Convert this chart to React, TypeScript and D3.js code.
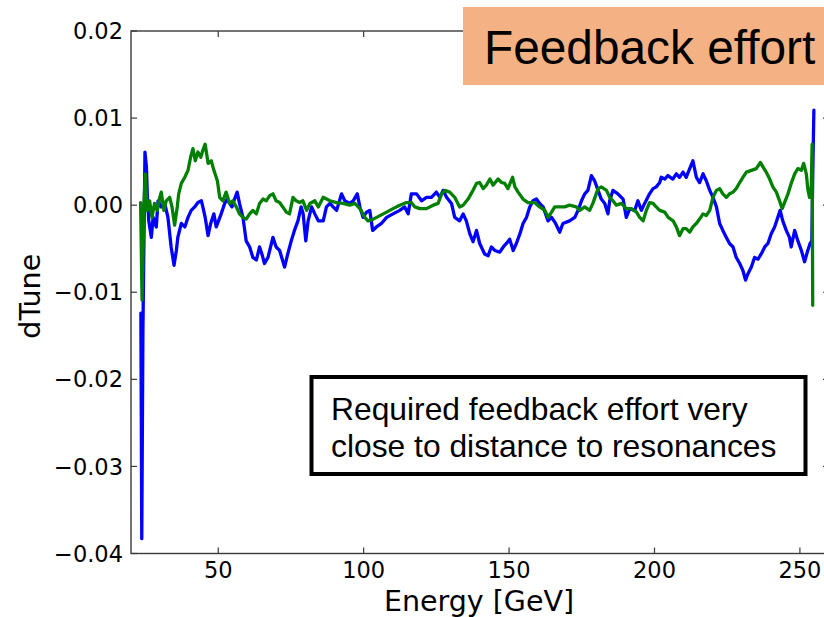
import React from "react";
import * as d3 from "d3";

// ---- data ----
const yTicks = [0.02, 0.01, 0.0, -0.01, -0.02, -0.03, -0.04];
const yTickLabels = ["0.02", "0.01", "0.00", "\u22120.01", "\u22120.02", "\u22120.03", "\u22120.04"];
const xTicks = [50, 100, 150, 200, 250];
const xTickLabels = ["50", "100", "150", "200", "250"];
const xLabel = "Energy [GeV]";
const yLabel = "dTune";
const titleText = "Feedback effort";
const noteLines = ["Required feedback effort very", "close to distance to resonances"];

const blueSeries: [number, number][] = [
  [23.4,-0.0124],[23.7,-0.0383],[24.1,-0.0144],[24.8,0.0061],[25.3,0.0044],[25.6,0.0013],[26.1,-0.0018],[27.0,-0.0037],[27.6,-0.0014],[28.7,-0.0025],[29.3,0.0005],[30.4,-0.0002],[31.6,0.0002],[32.7,-0.0014],[33.8,-0.0048],[34.8,-0.0069],[35.6,-0.0052],[36.1,-0.0037],[37.3,-0.0021],[38.5,-0.0025],[39.6,-0.0014],[40.7,-0.0006],[41.9,-0.0002],[43.0,0.0003],[44.2,0.0005],[44.7,-0.0002],[45.5,-0.0014],[46.5,-0.0035],[47.4,-0.0021],[48.5,-0.0010],[49.3,-0.0025],[50.1,-0.0018],[51.0,-0.0010],[52.2,0.0002],[53.1,0.0007],[53.9,0.0002],[54.7,-0.0002],[55.6,0.0007],[56.5,0.0015],[57.3,0.0002],[58.5,-0.0014],[59.6,-0.0041],[60.8,-0.0048],[61.9,-0.0060],[63.1,-0.0063],[64.2,-0.0048],[65.0,-0.0056],[65.9,-0.0067],[67.1,-0.0060],[68.8,-0.0037],[69.9,-0.0048],[71.1,-0.0052],[72.8,-0.0071],[73.9,-0.0056],[75.1,-0.0041],[76.2,-0.0029],[77.4,-0.0018],[78.5,-0.0002],[79.2,-0.0010],[80.1,-0.0041],[80.9,-0.0018],[82.1,-0.0002],[83.2,-0.0010],[84.4,-0.0018],[86.1,-0.0018],[87.2,-0.0002],[88.4,0.0002],[89.5,-0.0002],[90.7,-0.0006],[92.4,0.0013],[93.5,0.0005],[95.2,0.0002],[96.4,0.0005],[97.8,0.0013],[98.7,-0.0002],[99.8,-0.0014],[101.0,-0.0008],[102.1,-0.0006],[103.1,-0.0029],[104.4,-0.0025],[106.1,-0.0021],[107.9,-0.0014],[110.1,-0.0010],[112.4,-0.0006],[114.1,-0.0002],[115.3,-0.0010],[116.4,0.0013],[118.2,0.0013],[119.9,0.0005],[121.6,0.0009],[123.3,0.0009],[125.0,0.0015],[126.2,0.0009],[127.3,0.0017],[128.5,0.0009],[130.2,0.0002],[131.3,-0.0014],[133.0,-0.0018],[134.2,-0.0010],[135.3,-0.0018],[136.5,-0.0033],[137.6,-0.0042],[138.8,-0.0029],[139.9,-0.0044],[141.6,-0.0056],[142.8,-0.0058],[143.9,-0.0048],[145.1,-0.0052],[146.8,-0.0054],[148.0,-0.0048],[149.1,-0.0044],[150.2,-0.0039],[151.4,-0.0052],[152.5,-0.0044],[153.7,-0.0033],[154.8,-0.0021],[156.0,-0.0014],[157.1,-0.0002],[158.2,0.0005],[159.4,0.0007],[160.5,0.0002],[161.7,-0.0002],[163.4,-0.0018],[164.6,-0.0014],[166.0,-0.0021],[167.4,-0.0031],[168.5,-0.0021],[170.8,-0.0018],[172.6,-0.0014],[173.7,-0.0006],[174.9,0.0005],[176.0,0.0013],[177.1,0.0017],[178.3,0.0034],[179.4,0.0028],[180.6,0.0017],[181.7,0.0007],[182.9,0.0002],[184.0,-0.0010],[184.6,0.0005],[185.7,0.0017],[187.4,0.0013],[189.2,0.0007],[190.3,-0.0014],[191.5,-0.0004],[193.2,-0.0006],[194.3,0.0005],[195.5,-0.0006],[196.6,0.0002],[198.3,0.0013],[199.5,0.0019],[200.6,0.0021],[201.8,0.0026],[202.3,0.0032],[203.5,0.0030],[204.6,0.0034],[206.3,0.0030],[207.5,0.0036],[208.6,0.0032],[209.8,0.0038],[210.9,0.0032],[212.1,0.0042],[213.2,0.0051],[214.4,0.0032],[215.5,0.0026],[216.7,0.0036],[217.8,0.0028],[219.0,0.0017],[220.1,0.0009],[221.3,-0.0002],[222.4,-0.0021],[223.5,-0.0029],[224.7,-0.0037],[225.8,-0.0044],[227.0,-0.0048],[228.1,-0.0060],[229.3,-0.0067],[230.4,-0.0075],[231.3,-0.0086],[232.1,-0.0079],[233.3,-0.0071],[234.4,-0.0060],[235.6,-0.0062],[236.7,-0.0056],[237.9,-0.0048],[239.0,-0.0044],[240.1,-0.0033],[241.3,-0.0025],[242.4,-0.0014],[243.2,-0.0006],[244.1,-0.0018],[245.3,-0.0029],[246.4,-0.0037],[247.0,-0.0048],[248.2,-0.0029],[249.3,-0.0041],[250.5,-0.0052],[251.6,-0.0065],[252.7,-0.0052],[253.5,-0.0044],[254.1,-0.0041],[254.4,0.0032],[254.8,0.0109]
];

const greenSeries: [number, number][] = [
  [23.3,0.0003],[23.8,-0.0109],[24.5,0.0005],[24.9,0.0036],[25.6,-0.0006],[26.4,0.0005],[27.2,-0.0014],[28.1,0.0002],[29.0,-0.0006],[29.9,0.0009],[30.4,0.0015],[31.3,-0.0006],[32.1,0.0005],[33.3,0.0009],[34.1,-0.0002],[35.0,-0.0023],[35.9,-0.0002],[36.4,0.0013],[37.3,0.0025],[38.5,0.0032],[39.6,0.0040],[40.5,0.0055],[41.3,0.0065],[42.1,0.0051],[43.0,0.0061],[44.0,0.0055],[44.7,0.0063],[45.5,0.0070],[46.5,0.0048],[47.6,0.0051],[48.5,0.0040],[49.7,0.0028],[50.5,0.0009],[51.6,0.0005],[52.7,0.0015],[53.9,0.0002],[55.0,0.0005],[56.2,-0.0002],[57.3,-0.0010],[58.5,-0.0014],[59.6,-0.0016],[60.8,-0.0010],[61.9,-0.0006],[63.1,-0.0010],[64.2,0.0002],[65.4,0.0007],[66.5,0.0005],[67.7,0.0011],[68.8,0.0013],[69.9,0.0005],[71.1,0.0003],[72.2,-0.0002],[73.4,-0.0008],[74.5,-0.0010],[75.7,0.0009],[76.8,0.0005],[78.0,0.0003],[79.1,0.0005],[80.4,-0.0006],[81.5,0.0002],[83.2,0.0005],[84.4,-0.0002],[86.1,0.0009],[88.4,0.0005],[90.7,0.0003],[92.9,0.0002],[95.2,0.0000],[97.0,0.0002],[98.7,-0.0004],[100.4,-0.0014],[101.5,-0.0018],[103.3,-0.0016],[105.6,-0.0012],[107.9,-0.0008],[110.1,-0.0004],[112.4,0.0000],[114.7,0.0003],[116.4,0.0003],[117.6,-0.0002],[119.3,-0.0004],[121.6,-0.0004],[123.9,0.0000],[125.6,0.0002],[126.8,0.0013],[127.9,0.0017],[129.6,0.0015],[131.3,0.0009],[133.0,-0.0002],[134.2,0.0000],[135.9,0.0007],[137.6,0.0017],[138.8,0.0025],[139.9,0.0026],[141.1,0.0019],[142.2,0.0023],[143.4,0.0030],[144.5,0.0023],[146.2,0.0030],[147.4,0.0026],[148.5,0.0025],[149.6,0.0019],[151.2,0.0032],[152.0,0.0021],[153.1,0.0015],[154.8,0.0007],[156.5,0.0003],[158.8,0.0003],[160.5,-0.0002],[162.3,-0.0006],[163.4,-0.0014],[164.6,-0.0008],[165.7,-0.0002],[167.4,-0.0002],[169.1,-0.0002],[170.8,0.0000],[173.1,-0.0002],[174.3,-0.0006],[176.0,-0.0002],[177.7,-0.0006],[178.8,0.0002],[180.6,0.0019],[181.7,0.0021],[183.5,0.0017],[184.6,0.0009],[185.7,0.0005],[186.9,0.0000],[188.6,0.0002],[190.3,-0.0004],[192.0,-0.0004],[193.8,-0.0008],[194.9,-0.0014],[196.1,-0.0018],[197.2,-0.0006],[198.3,0.0003],[199.5,0.0002],[200.6,-0.0002],[201.8,-0.0006],[203.5,-0.0008],[204.7,-0.0014],[206.4,-0.0018],[207.5,-0.0025],[208.6,-0.0035],[209.8,-0.0027],[210.9,-0.0027],[212.1,-0.0031],[213.2,-0.0025],[214.4,-0.0021],[215.5,-0.0016],[216.7,-0.0010],[217.8,-0.0012],[219.0,-0.0006],[220.1,0.0009],[221.3,0.0017],[222.4,0.0019],[223.5,0.0013],[224.7,0.0009],[225.8,0.0013],[227.0,0.0015],[228.1,0.0019],[229.3,0.0026],[230.4,0.0032],[231.6,0.0038],[233.3,0.0040],[235.0,0.0042],[236.4,0.0049],[237.3,0.0044],[238.4,0.0038],[239.6,0.0030],[240.7,0.0021],[241.9,0.0015],[243.0,0.0005],[243.9,-0.0004],[244.7,0.0003],[245.9,0.0013],[247.0,0.0025],[248.2,0.0036],[249.3,0.0042],[250.5,0.0040],[251.3,0.0048],[252.2,0.0036],[252.7,0.0019],[253.3,0.0009],[253.9,0.0021],[254.2,0.0070],[254.4,-0.0115]
];

const xDomain: [number, number] = [20, 260];
const yDomain: [number, number] = [-0.04, 0.02];

// ---- layout ----
const W = 824;
const H = 617;
const plot = { left: 131, right: 829, top: 31, bottom: 553.5 };
const tickFont = "'DejaVu Sans', sans-serif";
const boxFont = "'Liberation Sans', Arial, sans-serif";

export default function App() {
  const x = d3.scaleLinear().domain(xDomain).range([plot.left, plot.right]);
  const y = d3.scaleLinear().domain(yDomain).range([plot.bottom, plot.top]);
  const line = d3
    .line<[number, number]>()
    .x((d) => x(d[0]))
    .y((d) => y(d[1]));

  const tickLen = 6;
  const spine = "#3a3a3a";

  return (
    <svg
      width={W}
      height={H}
      viewBox={`0 0 ${W} ${H}`}
      style={{ position: "absolute", left: 0, top: 0, background: "#fff" }}
    >
      <rect x={0} y={0} width={W} height={H} fill="#fff" />
      <defs>
        <clipPath id="plotClip">
          <rect x={plot.left} y={plot.top} width={plot.right - plot.left} height={plot.bottom - plot.top} />
        </clipPath>
      </defs>

      {/* data lines */}
      <g clipPath="url(#plotClip)" fill="none" strokeLinejoin="round" strokeLinecap="round">
        <path d={line(blueSeries) || ""} stroke="#0000ff" strokeWidth={3.3} />
        <path d={line(greenSeries) || ""} stroke="#008000" strokeWidth={3.3} />
      </g>

      {/* spines */}
      <rect
        x={plot.left}
        y={plot.top}
        width={plot.right - plot.left}
        height={plot.bottom - plot.top}
        fill="none"
        stroke={spine}
        strokeWidth={1.4}
      />

      {/* y ticks (inward, both sides) */}
      {yTicks.map((t, i) => (
        <g key={"y" + i}>
          <line x1={plot.left} x2={plot.left + tickLen} y1={y(t)} y2={y(t)} stroke={spine} strokeWidth={1.2} />
          <line x1={plot.right} x2={plot.right - tickLen} y1={y(t)} y2={y(t)} stroke={spine} strokeWidth={1.2} />
          <text
            x={plot.left - 8}
            y={y(t)}
            dy="0.36em"
            textAnchor="end"
            fontFamily={tickFont}
            fontSize={22.5}
            fill="#000"
          >
            {yTickLabels[i]}
          </text>
        </g>
      ))}

      {/* x ticks (inward, both sides) */}
      {xTicks.map((t, i) => (
        <g key={"x" + i}>
          <line x1={x(t)} x2={x(t)} y1={plot.bottom} y2={plot.bottom - tickLen} stroke={spine} strokeWidth={1.2} />
          <line x1={x(t)} x2={x(t)} y1={plot.top} y2={plot.top + tickLen} stroke={spine} strokeWidth={1.2} />
          <text
            x={x(t)}
            y={plot.bottom + 24}
            textAnchor="middle"
            fontFamily={tickFont}
            fontSize={22.5}
            fill="#000"
          >
            {xTickLabels[i]}
          </text>
        </g>
      ))}

      {/* axis labels */}
      <text
        x={479}
        y={611}
        textAnchor="middle"
        fontFamily={tickFont}
        fontSize={28.5}
        fill="#000"
      >
        {xLabel}
      </text>
      <text
        transform={`translate(39.5, ${(plot.top + plot.bottom) / 2 + 4}) rotate(-90)`}
        textAnchor="middle"
        fontFamily={tickFont}
        fontSize={28.5}
        fill="#000"
      >
        {yLabel}
      </text>

      {/* title box */}
      <rect x={463} y={7} width={W - 463 + 10} height={78} fill="#f4b183" />
      <text x={484} y={63.5} fontFamily={boxFont} fontSize={47.8} fill="#000">
        {titleText}
      </text>

      {/* annotation box */}
      <rect x={311.5} y={377} width={494} height={97} fill="#fff" stroke="#000" strokeWidth={4} />
      {noteLines.map((s, i) => (
        <text key={i} x={331} y={420 + i * 37} fontFamily={boxFont} fontSize={31.8} fill="#000">
          {s}
        </text>
      ))}
    </svg>
  );
}
